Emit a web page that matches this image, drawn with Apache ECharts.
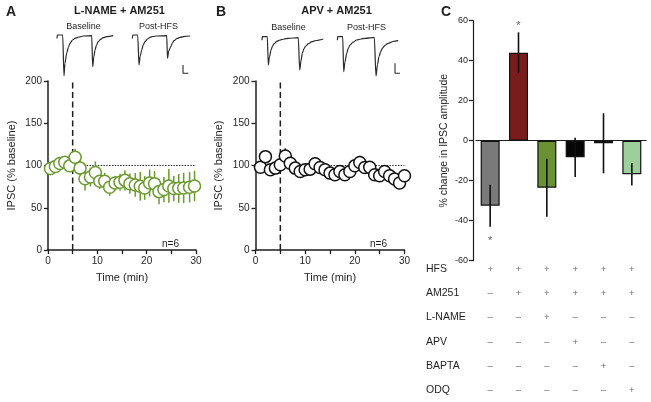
<!DOCTYPE html>
<html><head><meta charset="utf-8">
<script src="https://cdn.jsdelivr.net/npm/echarts@6/dist/echarts.min.js"></script>
<style>html,body{margin:0;padding:0;background:#fff}#c{width:651px;height:402px}</style>
</head><body><div id="c"></div>
<script>
const FONT = '"Liberation Sans", Arial, sans-serif';
const INK = '#1e1e1e';
const GREEN = '#6b9a2e';

// ---------- Panel A : L-NAME + AM251 ----------
const timeA = [0.5,1.5,2.4,3.4,4.4,5.5,6.5,7.5,8.6,9.6,10.5,11.5,12.5,13.6,14.6,15.6,16.6,17.7,18.7,19.6,20.6,21.6,22.5,23.5,24.5,25.5,26.5,27.5,28.7,29.7];
const ipscA = [96.5,98.8,102.3,103.9,99.6,109.8,96.9,84.4,86.3,91.8,81.3,81.3,74.2,79.3,80.1,82.4,78.5,77.0,75.4,73.4,79.3,78.5,69.1,71.5,75.8,72.7,73.0,73.4,74.2,75.8];
const semA  = [8,5,5,5,5,10,8,14,11,13,9,10,10,8,10,12,12,14,17,14,16,15,15,15,20,15,17,18,18,18];

// ---------- Panel B : APV + AM251 ----------
const timeB = [1,2,3,4,5,6,7,8,9,10,11,12,13,14,15,16,17,18,19,20,21,22,23,24,25,26,27,28,29,30];
const ipscB = [98.0,110.5,94.9,96.9,100.8,111.3,102.7,96.9,93.0,94.9,95.7,102.0,97.7,94.9,91.0,89.1,93.0,89.1,93.0,99.6,103.5,97.7,98.0,89.1,87.9,93.0,87.9,84.0,79.3,87.9];
const semB  = [4,5,5,4,5,9,6,5,6,7,8,8,6,6,7,6,7,7,7,6,8,5,6,5,6,6,6,6,6,6];

const hfsTime = 5;          // HFS delivery (min)
const baselineLevel = 100;  // % baseline
const nLabel = 'n=6';

// ---------- Panel C : % change in IPSC amplitude ----------
const groups    = ['HFS','AM251+HFS','L-NAME','APV','BAPTA','ODQ'];
const changeC   = [-32.5, 44.0, -23.5, -8.3, -1.3, -16.8];
const errC      = [10.5, 10.2, 14.5, 9.8, 15.0, 5.6];
const barColors = ['#7a7a7a','#7a1c1c','#6a9233','#060606','#2d3f75','#9dcf9d'];
const starAt    = [[0,-50],[1,57.5]];
const rowNames  = ['HFS','AM251','L-NAME','APV','BAPTA','ODQ'];
const signs = [
  ['+','+','+','+','+','+'],
  ['–','+','+','+','+','+'],
  ['–','–','+','–','–','–'],
  ['–','–','–','+','–','–'],
  ['–','–','–','–','+','–'],
  ['–','–','–','–','–','+']
];

// ---------- Example IPSC traces (time, amplitude) ----------
const trA_base = [[7.0,-3.5],[7.3,0],[12.7,0],[14,-41],[15,-28],[16.7,-18],[18.5,-12],[20,-8.3],[22.5,-5],[25,-3.3],[29,-2],[33.3,-1],[41.7,-0.7],[42.7,-31.7],[43.8,-22],[45,-15],[46.5,-10],[48.3,-6.7],[50.5,-4.3],[53.3,-2.7],[57,-1.6],[63.3,-0.7]];
const trA_post = [[82.4,-3.5],[82.7,0],[87.7,0],[89,-30],[90.2,-21],[91.7,-15],[93.2,-10],[95,-6.7],[97.5,-4],[100,-2.3],[103,-1.5],[106.7,-1],[116.7,-0.7],[117.5,-23.3],[118.7,-16],[120.7,-11.7],[122.5,-8],[124,-5.7],[127,-3.5],[130,-2.3],[135,-1.3],[140,-1]];
const scaleA   = [[133,-30],[133,-38.3],[138.3,-38.3]];
const trB_base = [[7.0,-3.5],[7.3,0],[12.3,0],[13.3,-28.3],[14.5,-20],[16,-13.3],[17.5,-9.5],[19.3,-6.7],[22,-4.5],[25,-3.3],[29,-2.3],[33.3,-1.6],[43.3,-1],[44.7,-33.3],[46,-24],[47.3,-16.7],[49,-12],[50.7,-9.3],[53.5,-7],[56.7,-5],[61,-3.8],[68.3,-2.3]];
const trB_post = [[82.4,-3.5],[82.7,0],[87.7,0],[88.7,-35],[90,-25],[91.7,-16.7],[93.3,-11.5],[95,-8.3],[98,-5.5],[101.7,-3.3],[106,-2.3],[110,-1.6],[119.3,-0.6],[121,-39.3],[122.5,-28],[124,-20],[125.7,-15],[127.3,-11.7],[130,-8.6],[133.3,-6.6],[138,-4.8],[143.3,-4]];
const scaleB   = [[140,-26.6],[140,-36.6],[145,-36.6]];

// ---------- helpers ----------
function errRender(color, w) {
  return function (params, api) {
    const x = api.value(0);
    const p1 = api.coord([x, api.value(1)]);
    const p2 = api.coord([x, api.value(2)]);
    return { type: 'line', shape: { x1: p1[0], y1: p1[1], x2: p2[0], y2: p2[1] },
             style: { stroke: color, lineWidth: w } };
  };
}
function timeXAxis(gi) {
  return {
    gridIndex: gi, type: 'value', min: 0, max: 30, interval: 5,
    name: 'Time (min)', nameLocation: 'middle', nameGap: 22,
    nameTextStyle: { fontFamily: FONT, fontSize: 11, color: INK },
    axisLine: { onZero: false, lineStyle: { color: INK, width: 1.5 } },
    axisTick: { length: 4, lineStyle: { color: INK, width: 1.3 } },
    axisLabel: { fontFamily: FONT, fontSize: 10, color: INK, margin: 6,
                 formatter: v => (v % 10 === 0 ? String(v) : '') },
    splitLine: { show: false }
  };
}
function ipscYAxis(gi) {
  return {
    gridIndex: gi, type: 'value', min: 0, max: 200, interval: 50,
    name: 'IPSC (% baseline)', nameLocation: 'middle', nameGap: 31,
    nameTextStyle: { fontFamily: FONT, fontSize: 11, color: INK },
    axisLine: { show: true, onZero: false, lineStyle: { color: INK, width: 1.5 } },
    axisTick: { show: true, length: 4, lineStyle: { color: INK, width: 1.3 } },
    axisLabel: { fontFamily: FONT, fontSize: 10, color: INK, margin: 6 },
    splitLine: { show: false }
  };
}
function hidden(gi, min, max) {
  return { gridIndex: gi, type: 'value', min: min, max: max, show: false, splitLine: { show: false } };
}
function timePanel(gi, times, vals, sems, color) {
  return [
    { type: 'line', xAxisIndex: gi, yAxisIndex: gi, data: [[hfsTime, 0], [hfsTime, 200]],
      symbol: 'none', silent: true, z: 1,
      lineStyle: { color: INK, width: 1.5, type: [6, 3.5] } },
    { type: 'line', xAxisIndex: gi, yAxisIndex: gi, data: [[hfsTime, baselineLevel], [30, baselineLevel]],
      symbol: 'none', silent: true, z: 1,
      lineStyle: { color: INK, width: 1.2, type: [1.4, 1.4] } },
    { type: 'custom', xAxisIndex: gi, yAxisIndex: gi, z: 2,
      renderItem: errRender(color, 1.5), encode: { x: 0, y: [1, 2] },
      data: times.map((t, i) => [t, vals[i] - sems[i], vals[i] + sems[i]]) },
    { type: 'scatter', xAxisIndex: gi, yAxisIndex: gi, z: 3,
      data: times.map((t, i) => [t, vals[i]]), symbol: 'circle', symbolSize: 12,
      itemStyle: { color: '#fff', borderColor: color, borderWidth: 1.5, opacity: 1 } }
  ];
}
function traceSeries(gi, data) {
  return { type: 'line', xAxisIndex: gi, yAxisIndex: gi, data: data, symbol: 'none',
           smooth: 0.25, smoothMonotone: 'x', silent: true,
           lineStyle: { color: '#2a2a2a', width: 1.2 } };
}
function txt(text, x, y, size, weight, align) {
  return { type: 'text', x: x, y: y, silent: true,
           style: { text: text, fill: INK, font: (weight || 'normal') + ' ' + size + 'px ' + FONT,
                    align: align || 'center', textAlign: align || 'center',
                    verticalAlign: 'middle', textVerticalAlign: 'middle' } };
}

const option = {
  animation: false,
  backgroundColor: '#ffffff',
  grid: [
    { left: 48, top: 81, width: 148, height: 169 },     // 0 A plot
    { left: 255.5, top: 81, width: 149, height: 169 },  // 1 B plot
    { left: 476, top: 20.7, width: 170, height: 240 },  // 2 C bars
    { left: 476, top: 269, width: 170, height: 121.5 }, // 3 C table
    { left: 50, top: 30, width: 150, height: 55 },      // 4 A traces
    { left: 255, top: 31.7, width: 150, height: 55 }    // 5 B traces
  ],
  xAxis: [
    timeXAxis(0),
    timeXAxis(1),
    { gridIndex: 2, type: 'category', data: groups,
      axisLine: { onZero: true, lineStyle: { color: INK, width: 1.2 } },
      axisTick: { show: false }, axisLabel: { show: false }, splitLine: { show: false } },
    { gridIndex: 3, type: 'category', data: groups, show: false },
    hidden(4, 0, 150),
    hidden(5, 0, 150)
  ],
  yAxis: [
    ipscYAxis(0),
    ipscYAxis(1),
    { gridIndex: 2, type: 'value', min: -60, max: 60, interval: 20, offset: 3,
      name: '% change in IPSC amplitude', nameLocation: 'middle', nameGap: 23,
      nameTextStyle: { fontFamily: FONT, fontSize: 10.5, color: INK },
      axisLine: { show: true, onZero: false, lineStyle: { color: INK, width: 1.2 } },
      axisTick: { show: true, length: 4, lineStyle: { color: INK, width: 1.2 } },
      axisLabel: { fontFamily: FONT, fontSize: 9, color: INK, margin: 5 },
      splitLine: { show: false } },
    { gridIndex: 3, type: 'value', min: 0, max: 5, interval: 1, inverse: true,
      axisLine: { show: false }, axisTick: { show: false }, splitLine: { show: false },
      axisLabel: { fontFamily: FONT, fontSize: 10.5, color: INK, align: 'left', margin: 50,
                   padding: [6, 0, 0, 0], formatter: v => rowNames[v] || '' } },
    hidden(4, -50, 5),
    hidden(5, -50, 5)
  ],
  series: [
    ...timePanel(0, timeA, ipscA, semA, GREEN),
    ...timePanel(1, timeB, ipscB, semB, '#111'),
    { type: 'bar', xAxisIndex: 2, yAxisIndex: 2, barWidth: 19, z: 2,
      data: changeC.map((v, i) => ({ value: v, itemStyle: { color: barColors[i] } })),
      itemStyle: { borderColor: '#111', borderWidth: 1.2 } },
    { type: 'custom', xAxisIndex: 2, yAxisIndex: 2, z: 3,
      renderItem: errRender('#111', 1.6), encode: { x: 0, y: [1, 2] },
      data: changeC.map((v, i) => [i, v - errC[i], v + errC[i]]) },
    { type: 'scatter', xAxisIndex: 2, yAxisIndex: 2, z: 4, data: starAt, symbolSize: 1,
      itemStyle: { color: 'rgba(0,0,0,0)' },
      label: { show: true, position: 'inside', formatter: '*', fontFamily: FONT, fontSize: 11, color: '#333' } },
    { type: 'scatter', xAxisIndex: 3, yAxisIndex: 3, symbolSize: 1,
      itemStyle: { color: 'rgba(0,0,0,0)' },
      data: signs.flatMap((row, r) => row.map((s, c) => [c, r, s])),
      label: { show: true, position: 'inside', formatter: p => p.value[2],
               fontFamily: FONT, fontSize: 9.5, color: '#444' } },
    traceSeries(4, trA_base), traceSeries(4, trA_post),
    { type: 'line', xAxisIndex: 4, yAxisIndex: 4, data: scaleA, symbol: 'none', silent: true,
      lineStyle: { color: '#2a2a2a', width: 1.1 } },
    traceSeries(5, trB_base), traceSeries(5, trB_post),
    { type: 'line', xAxisIndex: 5, yAxisIndex: 5, data: scaleB, symbol: 'none', silent: true,
      lineStyle: { color: '#2a2a2a', width: 1.1 } }
  ],
  graphic: [
    txt('A', 11, 12.5, 14, 'bold'),
    txt('B', 221, 12.5, 14, 'bold'),
    txt('C', 446, 12.5, 14, 'bold'),
    txt('L-NAME + AM251', 119.5, 10.5, 11, 'bold'),
    txt('APV + AM251', 336.5, 10.5, 11, 'bold'),
    txt('Baseline', 83.5, 27, 9),
    txt('Post-HFS', 158.5, 27, 9),
    txt('Baseline', 288.5, 27.5, 9),
    txt('Post-HFS', 366.5, 27.5, 9),
    txt(nLabel, 170.5, 244, 10),
    txt(nLabel, 378.5, 244, 10)
  ]
};
echarts.init(document.getElementById('c'), null, { renderer: 'canvas' }).setOption(option);
</script>
</body></html>
